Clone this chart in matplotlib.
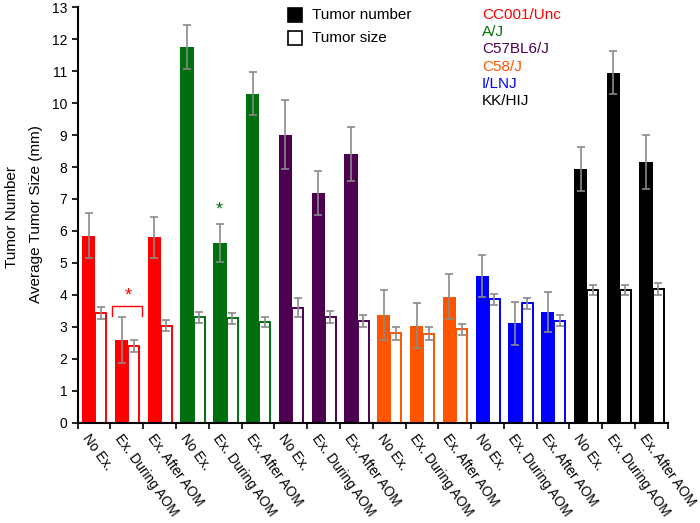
import numpy as np
import matplotlib
matplotlib.use("Agg")
import matplotlib.pyplot as plt

plt.rcParams['font.family'] = ['Liberation Sans', 'DejaVu Sans']

strains = ["CC001/Unc", "A/J", "C57BL6/J", "C58/J", "I/LNJ", "KK/HIJ"]
strain_colors = ["#ff0000", "#00700f", "#4d0050", "#ff5500", "#0000ff", "#000000"]
conditions = ["No Ex.", "Ex. During AOM", "Ex. After AOM"]

# tumor number (mean, err) per strain x condition
tumor_number = [5.85, 2.60, 5.80,
                11.77, 5.62, 10.29,
                9.01, 7.20, 8.41,
                3.36, 3.03, 3.94,
                4.59, 3.11, 3.46,
                7.95, 10.95, 8.16]
tumor_number_err = [0.70, 0.72, 0.65,
                    0.69, 0.60, 0.67,
                    1.08, 0.69, 0.85,
                    0.79, 0.71, 0.71,
                    0.65, 0.67, 0.63,
                    0.69, 0.67, 0.85]
# average tumor size (mm)
tumor_size = [3.42, 2.40, 3.03,
              3.29, 3.27, 3.15,
              3.60, 3.31, 3.19,
              2.80, 2.78, 2.92,
              3.86, 3.74, 3.19,
              4.15, 4.15, 4.18]
tumor_size_err = [0.19, 0.19, 0.17,
                  0.17, 0.17, 0.16,
                  0.29, 0.19, 0.19,
                  0.20, 0.20, 0.18,
                  0.17, 0.17, 0.17,
                  0.17, 0.17, 0.20]

n = len(tumor_number)
slot = np.arange(n)
cols = [c for c in strain_colors for _ in conditions]
labels = conditions * len(strains)

fig = plt.figure(figsize=(7, 5.23), dpi=100)
ax = fig.add_axes([0.111, 0.192, 0.843, 0.794])

w1 = 0.405
w2 = 0.335
x1 = slot + 0.135
x2 = x1 + w1
ax.bar(x1, tumor_number, width=w1, align='edge', color=cols, edgecolor='none', zorder=2)
ax.bar(x2, tumor_size, width=w2, align='edge', color='white', edgecolor=cols, linewidth=1.4, zorder=2)
ax.errorbar(x1 + w1 / 2, tumor_number, yerr=tumor_number_err, fmt='none',
            ecolor='#8a8a8a', elinewidth=1.2, capsize=3, capthick=1.2, zorder=3)
ax.errorbar(x2 + w2 / 2, tumor_size, yerr=tumor_size_err, fmt='none',
            ecolor='#8a8a8a', elinewidth=1.2, capsize=3, capthick=1.2, zorder=3)

# significance marks
ax.plot([1.06, 1.06, 1.97, 1.97], [3.35, 3.65, 3.65, 3.35], color='#ff0000', lw=1.0, zorder=4)
ax.text(1.54, 3.70, "*", color='#ff0000', ha='center', va='bottom', fontsize=13)
ax.text(4.33, 6.40, "*", color='#00700f', ha='center', va='bottom', fontsize=13)

ax.set_xlim(0, n)
ax.set_ylim(0, 13)
ax.set_yticks(range(0, 14))
ax.tick_params(axis='y', direction='out', length=4, width=1.2, labelsize=10)
ax.set_xticks(range(0, n + 1))
ax.set_xticklabels([])
ax.tick_params(axis='x', direction='out', length=4, width=1.2)
for i, lab in enumerate(labels):
    ax.text(i + 0.22, -0.42, lab, rotation=-54, rotation_mode='anchor',
            ha='left', va='center', fontsize=9.8, clip_on=False)
for side in ['top', 'right']:
    ax.spines[side].set_visible(False)
for side in ['left', 'bottom']:
    ax.spines[side].set_linewidth(1.5)

fig.text(12 / 700, 1 - 217 / 523, "Tumor Number", rotation=90, ha='center', va='center', fontsize=11)
fig.text(36 / 700, 1 - 214 / 523, "Average Tumor Size (mm)", rotation=90, ha='center', va='center', fontsize=11)

# legend boxes
fig.patches.append(plt.Rectangle((288 / 700, 1 - 22 / 523), 14 / 700, 14 / 523,
                                 transform=fig.transFigure, facecolor='black', edgecolor='black', lw=1.2))
fig.patches.append(plt.Rectangle((288 / 700, 1 - 45 / 523), 14 / 700, 14 / 523,
                                 transform=fig.transFigure, facecolor='white', edgecolor='black', lw=1.2))
fig.text(312 / 700, 1 - 15 / 523, "Tumor number", ha='left', va='center', fontsize=11)
fig.text(312 / 700, 1 - 38 / 523, "Tumor size", ha='left', va='center', fontsize=11)

for k, (s, c) in enumerate(zip(strains, strain_colors)):
    fig.text(482 / 700, 1 - (15 + 17.2 * k) / 523, s, color=c, ha='left', va='center', fontsize=11)

fig.savefig("out.png", dpi=100)
